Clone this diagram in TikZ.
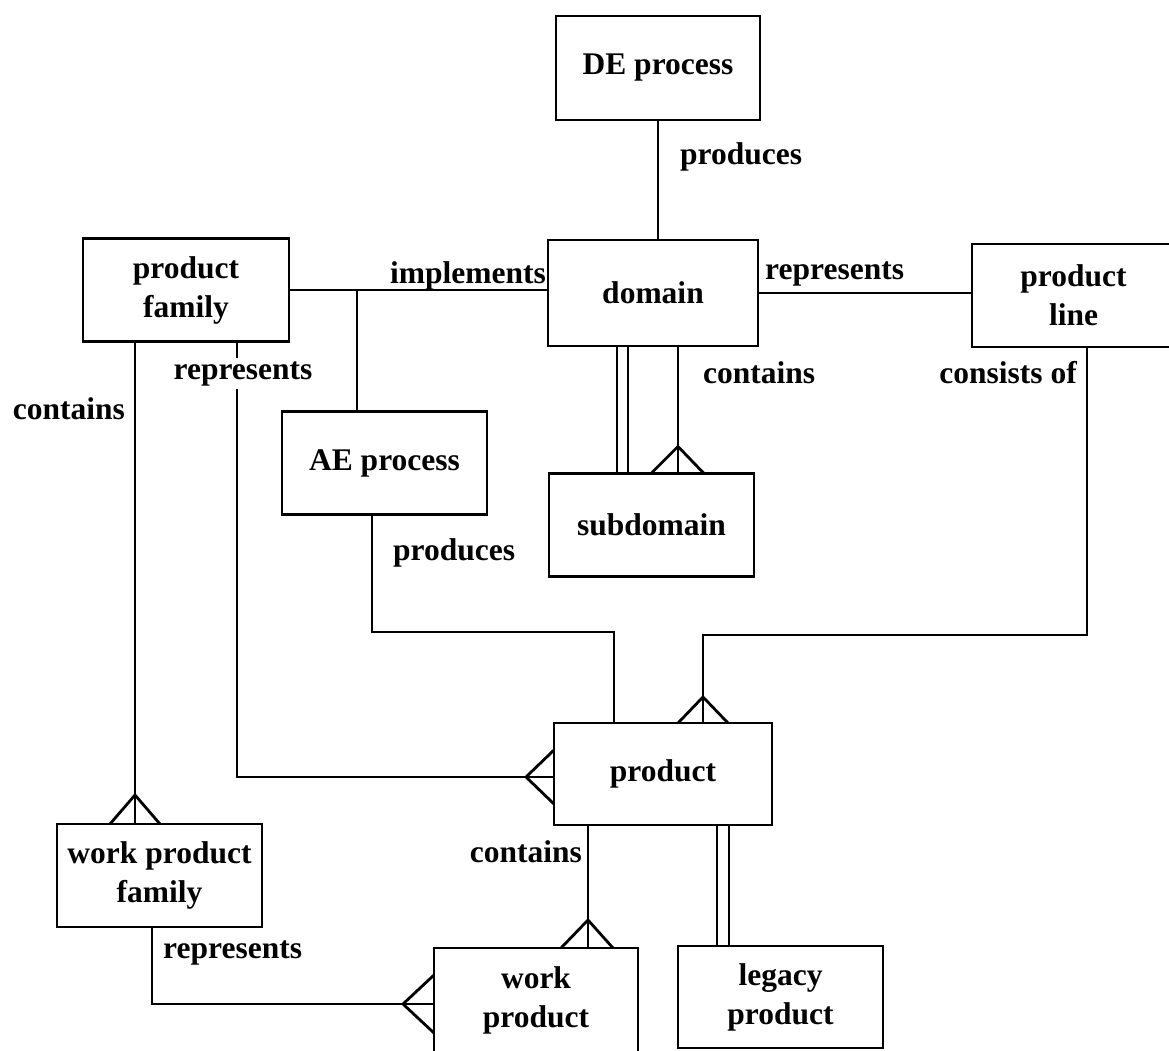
\documentclass[tikz,border=0pt]{standalone}
\usepackage{fontspec}
\setmainfont{Liberation Serif}
\usetikzlibrary{calc}
\begin{document}
\begin{tikzpicture}[x=1pt,y=-1pt,
  every node/.style={font=\fontsize{31.5}{39}\selectfont\bfseries},
  entity/.style={draw, line width=2.8pt, rectangle, inner sep=0pt, outer sep=0pt,
                 align=center, minimum width=205pt, minimum height=103pt},
  rel/.style={line width=2.8pt, line join=miter},
  lbl/.style={inner sep=0pt}]

\fill[white] (0,0) rectangle (1169,1050);
\useasboundingbox (0,0) rectangle (1169,1050);

% entities
\node[entity, minimum width=204pt, minimum height=104pt] (de)  at (658,68)    {DE process};
\node[entity, minimum width=210pt, minimum height=106pt] (dom) at (653,293)   {domain};
\node[entity, minimum width=206pt] (pf)  at (186,290)   {product\\family};
\node[entity, minimum width=203pt] (pl)  at (1073.5,295.5) {product\\line};
\node[entity] (ae)  at (384.5,463) {AE process};
\node[entity] (sub) at (651.5,525) {subdomain};
\node[entity, minimum width=218pt, minimum height=102pt] (prod) at (663,774) {product};
\node[entity] (wpf) at (159.5,875.5) {work product\\family};
\node[entity, minimum width=204pt, minimum height=104pt] (wp) at (536,1000) {work\\product};
\node[entity, minimum height=102pt] (lp) at (780.5,997) {legacy\\product};

% DE process produces domain
\draw[rel] (de.south) -- (de.south |- dom.north);
\node[lbl, anchor=base west] (l1) at (680,164) {produces};

% product family implements domain, branch to AE process
\draw[rel] (pf.east) -- (pf.east -| dom.west);
\coordinate (j1) at (357,290);
\draw[rel] (j1) -- (j1 |- ae.north);
\node[lbl, anchor=base east] (l2) at (546,283) {implements};

% domain represents product line
\draw[rel] (dom.east) -- (dom.east -| pl.west);
\node[lbl, anchor=base west] (l3) at (765,279) {represents};

% domain contains subdomain
\coordinate (d1) at (617,0);
\coordinate (d2) at (628,0);
\draw[rel] (d1 |- dom.south) -- (d1 |- sub.north);
\draw[rel] (d2 |- dom.south) -- (d2 |- sub.north);
\coordinate (c1) at (678,0);
\coordinate (c1b) at (c1 |- sub.north);
\draw[rel] (c1 |- dom.south) -- (c1b);
\draw[rel] ($(c1b)+(-27,0)$) -- ($(c1b)+(0,-27)$) -- ($(c1b)+(26,0)$);
\node[lbl, anchor=base west] (l4) at (703,383) {contains};

% product line consists of product
\coordinate (p1) at (1087,0);
\coordinate (p2) at (1087,635);
\coordinate (p3) at (703,635);
\coordinate (p3b) at (p3 |- prod.north);
\draw[rel] (p1 |- pl.south) -- (p2) -- (p3) -- (p3b);
\draw[rel] ($(p3b)+(-25,0)$) -- ($(p3b)+(0,-26)$) -- ($(p3b)+(25,0)$);
\node[lbl, anchor=base east] (l5) at (1077,383) {consists of};

% AE process produces product
\coordinate (a1) at (372,0);
\coordinate (a2) at (372,632);
\coordinate (a3) at (614,632);
\draw[rel] (a1 |- ae.south) -- (a2) -- (a3) -- (a3 |- prod.north);
\node[lbl, anchor=base west] (l6) at (393,560) {produces};

% product family represents product
\coordinate (r1) at (237,0);
\coordinate (r2) at (237,777);
\coordinate (r2b) at (r2 -| prod.west);
\draw[rel] (r1 |- pf.south) -- (r2) -- (r2b);
\draw[rel] ($(r2b)+(0,-27)$) -- ($(r2b)+(-28,0)$) -- ($(r2b)+(0,27)$);
\node[lbl, anchor=base, fill=white, inner ysep=3pt, inner xsep=2pt] (l7) at (243,379) {represents};

% product family contains work product family
\coordinate (f1) at (135,0);
\coordinate (f1b) at (f1 |- wpf.north);
\draw[rel] (f1 |- pf.south) -- (f1b);
\draw[rel] ($(f1b)+(-25,0)$) -- ($(f1b)+(0,-29)$) -- ($(f1b)+(25,0)$);
\node[lbl, anchor=base east] (l8) at (125,419) {contains};

% product contains work product
\coordinate (w1) at (588,0);
\coordinate (w1b) at (w1 |- wp.north);
\draw[rel] (w1 |- prod.south) -- (w1b);
\draw[rel] ($(w1b)+(-27,0)$) -- ($(w1b)+(0,-28)$) -- ($(w1b)+(25,0)$);
\node[lbl, anchor=base east] (l9) at (582,862) {contains};

% legacy product is a product
\coordinate (g1) at (717,0);
\coordinate (g2) at (729,0);
\draw[rel] (g1 |- prod.south) -- (g1 |- lp.north);
\draw[rel] (g2 |- prod.south) -- (g2 |- lp.north);

% work product family represents work product
\coordinate (v1) at (152,0);
\coordinate (v2) at (152,1004);
\coordinate (v2b) at (v2 -| wp.west);
\draw[rel] (v1 |- wpf.south) -- (v2) -- (v2b);
\draw[rel] ($(v2b)+(0,-29)$) -- ($(v2b)+(-31,0)$) -- ($(v2b)+(0,29)$);
\node[lbl, anchor=base west] (l10) at (163,958) {represents};

\end{tikzpicture}
\end{document}
